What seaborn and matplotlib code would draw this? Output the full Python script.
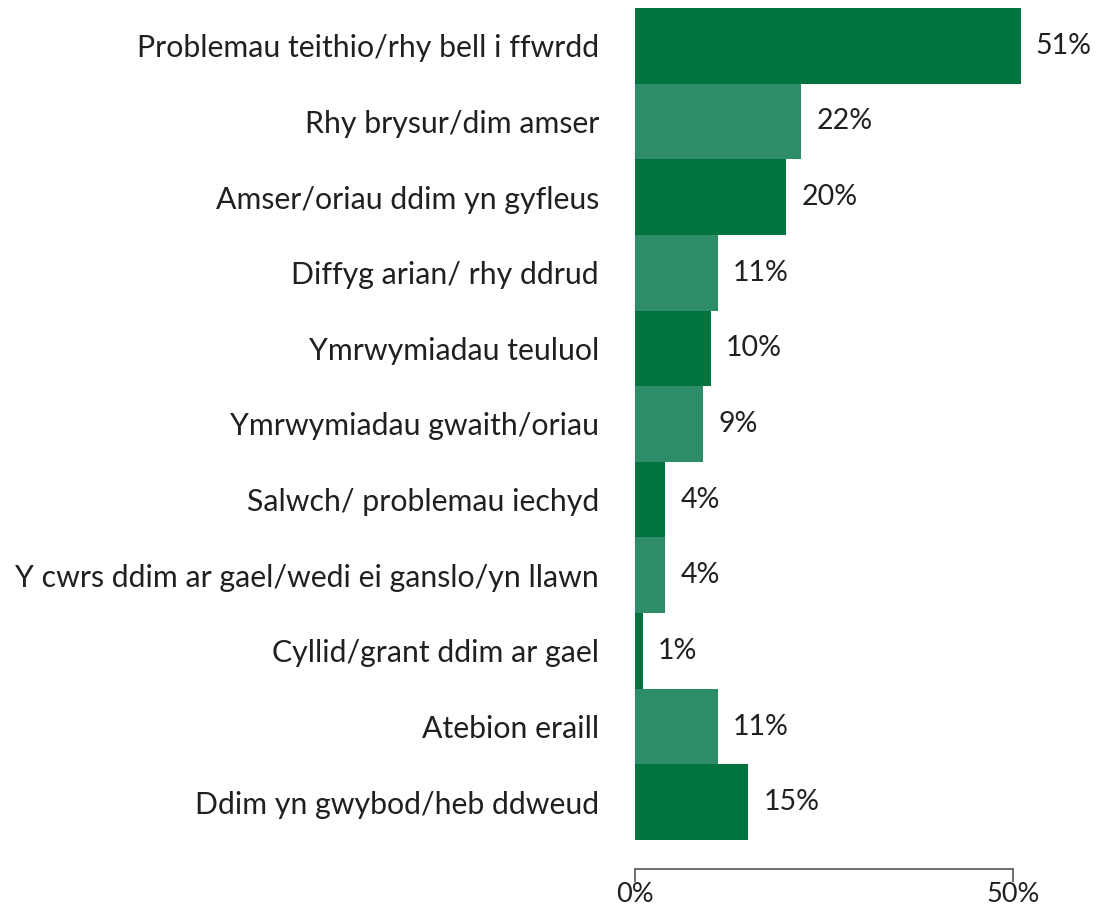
import matplotlib
matplotlib.use("Agg")
import matplotlib.pyplot as plt
import matplotlib.transforms as mtransforms
import seaborn as sns
import pandas as pd

categories = [
    "Problemau teithio/rhy bell i ffwrdd",
    "Rhy brysur/dim amser",
    "Amser/oriau ddim yn gyfleus",
    "Diffyg arian/ rhy ddrud",
    "Ymrwymiadau teuluol",
    "Ymrwymiadau gwaith/oriau",
    "Salwch/ problemau iechyd",
    "Y cwrs ddim ar gael/wedi ei ganslo/yn llawn",
    "Cyllid/grant ddim ar gael",
    "Atebion eraill",
    "Ddim yn gwybod/heb ddweud",
]
values = [51, 22, 20, 11, 10, 9, 4, 4, 1, 11, 15]
value_labels = ["51%", "22%", "20%", "11%", "10%", "9%", "4%", "4%", "1%", "11%", "15%"]
x_ticks = [0, 50]
x_tick_labels = ["0%", "50%"]

dark = "#00733f"
light = "#2d8d69"
palette = [dark if i % 2 == 0 else light for i in range(len(categories))]

df = pd.DataFrame({"category": categories, "value": values})

sns.set_style("white")
plt.rcParams["font.family"] = ["Lato", "DejaVu Sans"]
text_color = "#231f20"

fig = plt.figure(figsize=(11.05, 9.08), dpi=100)
left = 635 / 1105
bottom = 1 - 840 / 908
top = 1 - 8 / 908
px_per_unit = (1013 - 635) / 50
xmax = 60
width = xmax * px_per_unit / 1105
ax = fig.add_axes([left, bottom, width, top - bottom])

sns.barplot(data=df, x="value", y="category", hue="category", palette=palette,
            legend=False, width=1.0, orient="h", ax=ax, saturation=1)

for p in ax.patches:
    p.set_linewidth(0)
    p.set_clip_on(False)

ax.set_xlim(0, xmax)
ax.set_ylim(len(categories) - 0.5, -0.5)

for i, (v, lab) in enumerate(zip(values, value_labels)):
    ax.annotate(lab, xy=(v, i), xytext=(15, 0), textcoords="offset pixels",
                ha="left", va="center", fontsize=20.5, color=text_color)

ax.set_xlabel("")
ax.set_ylabel("")
ax.set_xticks(x_ticks)
ax.set_xticklabels(x_tick_labels)
ax.tick_params(axis="x", bottom=True, direction="out", length=9, width=1.2,
               color="#555555", pad=0.5, labelsize=19.5, labelcolor=text_color)
ax.tick_params(axis="y", left=False, length=0, pad=26, labelsize=21.8, labelcolor=text_color)

offset = mtransforms.ScaledTranslation(10 / 100, 0, fig.dpi_scale_trans)
for lbl in ax.get_xticklabels():
    lbl.set_transform(lbl.get_transform() + offset)

for s in ["top", "right", "left"]:
    ax.spines[s].set_visible(False)
ax.spines["bottom"].set_position(("outward", 21))
ax.spines["bottom"].set_bounds(0, 50)
ax.spines["bottom"].set_color("#555555")
ax.spines["bottom"].set_linewidth(1.2)

fig.savefig("out.png", dpi=100)
